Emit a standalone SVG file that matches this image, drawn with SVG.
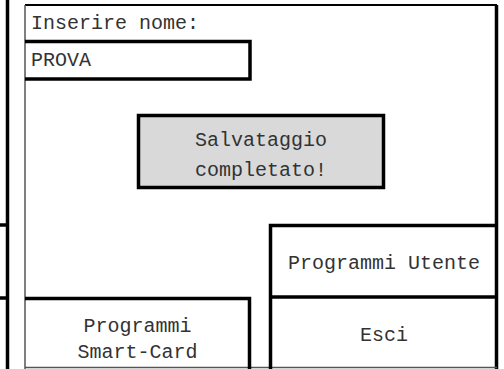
<svg xmlns="http://www.w3.org/2000/svg" width="504" height="369" viewBox="0 0 504 369">
  <style>
    .lbl { font-family: "Liberation Mono", "Courier New", monospace; font-size: 20px; fill: #333; }
    .mid { text-anchor: middle; }
    .thick { stroke: #000; stroke-width: 3.5; fill: none; }
    .thin { stroke: #555; stroke-width: 1.5; fill: none; }
  </style>
  <rect x="0" y="0" width="504" height="369" fill="#ffffff"/>

  <!-- edge of the neighbouring panel on the left -->
  <g id="left-panel">
    <line class="thick" x1="7.5" y1="0" x2="7.5" y2="369" stroke-width="3"/>
    <line class="thick" x1="0" y1="225" x2="8" y2="225" stroke-width="3"/>
    <line class="thick" x1="0" y1="298" x2="8" y2="298" stroke-width="3"/>
  </g>

  <!-- screen frame -->
  <g id="frame">
    <line x1="25" y1="5" x2="497" y2="5" stroke="#000" stroke-width="2"/>
    <line class="thin" x1="25" y1="5" x2="25" y2="369"/>
    <line class="thick" x1="496.5" y1="5" x2="496.5" y2="369" stroke-width="3"/>
    <line class="thin" x1="25" y1="367.5" x2="497" y2="367.5"/>
  </g>

  <g id="prompt">
    <text class="lbl" x="31" y="29">Inserire nome:</text>
  </g>

  <g id="name-field">
    <path d="M25 41.5 H250 V79 H25" class="thick"/>
    <text class="lbl" x="31" y="66">PROVA</text>
  </g>

  <g id="message">
    <rect x="138.5" y="115.5" width="245" height="72" fill="#d9d9d9" stroke="#000" stroke-width="3.5"/>
    <text class="lbl mid" x="261" y="146">Salvataggio</text>
    <text class="lbl mid" x="261" y="176">completato!</text>
  </g>

  <g id="btn-programmi-utente">
    <path d="M270.5 369 V225.5 H496.5" class="thick"/>
    <line class="thick" x1="270.5" y1="297" x2="496.5" y2="297"/>
    <text class="lbl mid" x="384" y="269">Programmi Utente</text>
  </g>

  <g id="btn-esci">
    <text class="lbl mid" x="384" y="341">Esci</text>
  </g>

  <g id="btn-programmi-smartcard">
    <path d="M25 298.5 H249.5 V369" class="thick"/>
    <text class="lbl mid" x="137.5" y="332">Programmi</text>
    <text class="lbl mid" x="137.5" y="358">Smart-Card</text>
  </g>

  <g id="connectors"></g>
</svg>
